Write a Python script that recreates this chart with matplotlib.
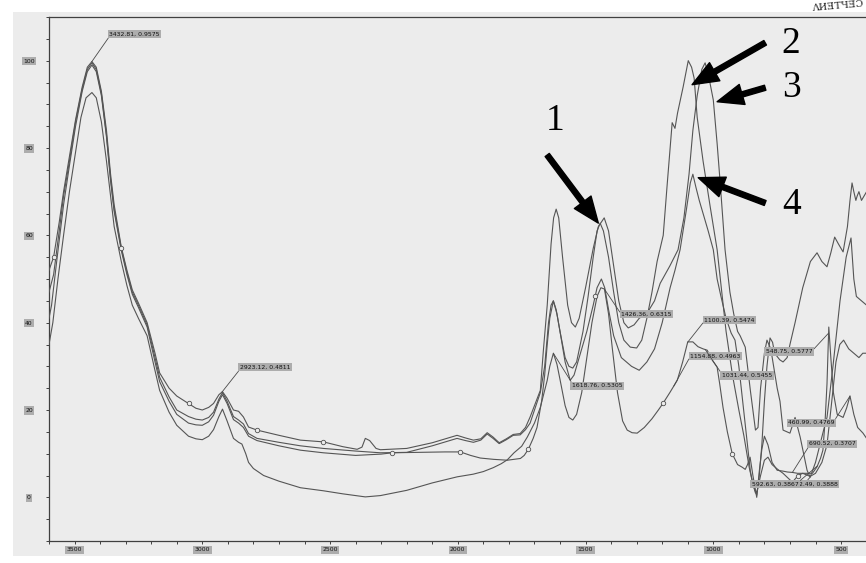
import numpy as np
import matplotlib.pyplot as plt
from matplotlib.patches import Rectangle
from matplotlib.ticker import MultipleLocator

# IR spectra, four samples (wavenumber, cm-1 -> relative absorbance)
c3_wn = [3600, 3582, 3560, 3543, 3520, 3496, 3470, 3450, 3432, 3415, 3395, 3375, 3359, 3345, 3317, 3295, 3274, 3250, 3216, 3185,
         3167, 3130, 3100, 3054, 3025, 3000, 2975, 2956, 2935, 2921, 2903, 2878, 2858, 2839, 2819, 2786, 2700, 2616, 2526, 2450,
         2394, 2375, 2362, 2345, 2320, 2303, 2200, 2100, 2003, 1970, 1939, 1910, 1885, 1862, 1838, 1810, 1783, 1756, 1735, 1717,
         1700, 1677, 1665, 1650, 1635, 1625, 1615, 1605, 1590, 1570, 1555, 1540, 1525, 1500, 1470, 1450, 1427, 1410, 1390, 1370,
         1350, 1333, 1310, 1290, 1259, 1230, 1208, 1170, 1138, 1115, 1095, 1080, 1063, 1045, 1032, 1020, 1000, 985, 973, 954,
         935, 920, 905, 895, 875, 855, 835, 825, 815, 800, 790, 775, 750, 739, 727, 700, 680, 660, 633, 621,
         600, 570, 555, 532, 504, 480, 461, 450, 440, 420, 400]
c3_val = [52, 55, 63, 70, 78, 86.5, 94, 98.5, 99.8, 98.5, 93, 84, 74, 67, 57.3, 52, 47.5, 44.5, 40, 33,
          28.5, 25, 23.2, 21.5, 20.4, 20, 20.6, 21.5, 23.5, 24.2, 22.7, 20, 19.7, 18.4, 16.1, 15.4, 14.2, 13.1, 12.7, 11.6,
          11.0, 11.5, 13.5, 13, 11.2, 10.9, 11.2, 12.5, 14.2, 13.6, 13.1, 13.4, 14.8, 13.8, 12.5, 13.4, 14.4, 14.6, 16, 18.4,
          21, 24.5, 33.7, 44, 58, 64, 66, 64, 55, 44, 40, 39, 41, 48, 57, 62, 64, 61, 53, 45,
          40, 38.8, 39.5, 41, 42.2, 45, 49, 53, 56.7, 64, 74, 84, 92, 98, 99.5, 97, 91, 81, 72, 56.7,
          47, 42, 38, 37, 34.4, 24.5, 15.4, 16, 25, 33, 36, 34, 25, 22, 15.4, 14.7, 18.3, 13.8, 6.2, 4.6,
          8, 15, 18.3, 29.8, 45, 55, 59.4, 50, 46, 45, 44]

c2_wn = [3600, 3582, 3560, 3543, 3520, 3496, 3470, 3450, 3432, 3415, 3395, 3375, 3359, 3345, 3317, 3295, 3274, 3250, 3216, 3185,
         3167, 3130, 3100, 3054, 3025, 3000, 2975, 2956, 2935, 2921, 2903, 2878, 2858, 2839, 2819, 2786, 2700, 2616, 2526, 2400,
         2303, 2200, 2100, 2003, 1970, 1939, 1910, 1885, 1862, 1838, 1810, 1783, 1756, 1735, 1717, 1700, 1677, 1660, 1645, 1635,
         1626, 1615, 1600, 1580, 1565, 1550, 1535, 1510, 1490, 1470, 1455, 1443, 1430, 1410, 1390, 1370, 1350, 1325, 1300, 1280,
         1260, 1240, 1220, 1196, 1180, 1161, 1150, 1140, 1118, 1098, 1085, 1075, 1063, 1040, 1012, 985, 965, 950, 925, 900,
         880, 860, 845, 830, 820, 810, 800, 790, 778, 768, 760, 740, 727, 711, 700, 680, 650, 620, 594, 575,
         555, 540, 525, 510, 492, 475, 465, 457, 450, 442, 437, 430, 420, 410, 400]
c2_val = [47, 51, 61, 69, 77, 86, 93.5, 98, 99.5, 98, 92.5, 83, 73, 66, 57, 51.5, 47, 44, 39.5, 32,
          27.5, 23, 20, 18.5, 17.9, 17.7, 18.3, 19.5, 22.5, 24, 22, 18.5, 17.7, 16.8, 14.6, 13.5, 12.6, 11.8, 11.2, 10.6,
          10.2, 10.3, 11.8, 13.5, 13.0, 12.6, 13.1, 14.5, 13.5, 12.3, 13.2, 14.2, 14.3, 15.5, 17, 20, 24, 30, 40, 44,
          45, 43, 38, 32, 30, 29.6, 31, 38, 46, 55, 61, 62.8, 61, 55, 47, 40, 36, 34.4, 34.2, 36,
          41, 47, 54, 60, 72, 85.8, 84.5, 88, 94, 100, 98.5, 96, 87, 77, 66.5, 56.7, 46, 38, 28, 20,
          14, 7, 3, 0.5, 5, 12, 22, 30, 36.5, 35.5, 33, 31.5, 31, 32, 35, 40, 48, 54, 56, 54,
          52.8, 56, 59.6, 58, 56.2, 62, 68, 72, 70, 68, 69, 70, 68, 69, 70]

c4_wn = [3600, 3590, 3570, 3543, 3520, 3496, 3470, 3450, 3432, 3415, 3395, 3375, 3359, 3345, 3317, 3295, 3274, 3250, 3216, 3185,
         3167, 3130, 3100, 3054, 3025, 3000, 2975, 2956, 2935, 2921, 2903, 2878, 2858, 2839, 2819, 2786, 2700, 2616, 2526, 2400,
         2300, 2257, 2150, 2050, 1990, 1950, 1912, 1860, 1806, 1770, 1755, 1740, 1724, 1705, 1690, 1672, 1660, 1650, 1640, 1626,
         1612, 1600, 1580, 1560, 1545, 1520, 1495, 1470, 1455, 1438, 1425, 1410, 1390, 1360, 1320, 1290, 1260, 1230, 1200, 1169,
         1150, 1130, 1105, 1090, 1080, 1068, 1055, 1040, 1020, 1000, 985, 970, 950, 930, 915, 900, 885, 870, 855, 845,
         835, 828, 815, 800, 786, 770, 750, 727, 700, 690, 668, 650, 630, 612, 594, 580, 571, 562, 555, 548,
         540, 530, 515, 492, 478, 465, 450, 435, 414, 400]
c4_val = [41, 44, 54, 67, 76, 85, 93, 97.5, 99, 97.5, 92, 82.5, 72.5, 65.5, 56.5, 51, 46.5, 43.5, 39, 31,
          26.5, 22, 19, 17, 16.6, 16.5, 17.3, 18.8, 22, 23.5, 21.5, 17.8, 17, 16, 14, 13, 11.8, 10.8, 10.2, 9.6,
          9.9, 10.2, 10.3, 10.4, 10.4, 9.6, 9.0, 8.7, 8.5, 8.8, 8.9, 9.6, 11, 13.5, 16, 22, 28, 35, 41, 45,
          42, 38, 31, 26.8, 28, 33, 38, 44, 48, 50, 48, 43, 37, 32, 30, 29.1, 31, 34, 40, 48,
          52, 56.7, 66, 72, 74, 71, 68, 65, 61, 56.7, 50, 46, 41, 37.6, 36, 30, 22, 14, 6, 3,
          1, 1.5, 5, 8.5, 9.2, 7.5, 6.5, 5.5, 4, 3.5, 5, 5.5, 5.5, 5.5, 7, 9, 10.8, 18, 26, 39,
          32, 24, 19, 18.3, 20.5, 23.2, 19, 16, 14.7, 13.5]

d_wn = [3600, 3585, 3565, 3543, 3520, 3496, 3475, 3455, 3432, 3415, 3395, 3375, 3359, 3345, 3317, 3295, 3274, 3250, 3216, 3185,
        3167, 3130, 3100, 3054, 3025, 3000, 2975, 2956, 2935, 2921, 2903, 2878, 2858, 2845, 2830, 2819, 2800, 2760, 2700, 2616,
        2526, 2450, 2362, 2303, 2200, 2100, 2002, 1940, 1900, 1861, 1830, 1806, 1780, 1750, 1728, 1700, 1677, 1660, 1650, 1640,
        1626, 1612, 1600, 1580, 1565, 1550, 1535, 1515, 1495, 1475, 1455, 1440, 1426, 1410, 1395, 1375, 1355, 1337, 1318, 1298,
        1270, 1240, 1215, 1196, 1170, 1141, 1120, 1100, 1080, 1060, 1040, 1024, 1005, 985, 975, 962, 945, 926, 905, 887,
        875, 866, 856, 845, 830, 820, 810, 800, 786, 770, 750, 727, 710, 690, 670, 650, 621, 600, 575, 555,
        540, 520, 505, 490, 470, 450, 430, 415, 400]
d_val = [35, 40, 50, 60, 70, 79, 87, 91.5, 92.7, 91.5, 86, 77, 69, 62, 54, 48.5, 44, 41, 37, 29,
         24.5, 19.5, 16.5, 14, 13.4, 13.2, 14, 15.5, 18.5, 20.2, 17.5, 13.5, 12.6, 12.2, 10, 8, 6.6, 5, 3.7, 2.2,
         1.5, 0.8, 0.1, 0.4, 1.6, 3.3, 4.7, 5.3, 5.9, 6.8, 7.7, 8.6, 10.2, 11.7, 13.8, 17, 20.6, 24.5, 26.8, 30,
         33, 30.5, 27, 21, 18.3, 17.7, 19, 24, 32, 40, 46, 48, 47.7, 42, 34, 24, 17.5, 15.4, 14.8, 14.7,
         16, 18, 20, 21.6, 24, 26.8, 31, 35.6, 35.6, 34.5, 34, 33.7, 31.5, 29.8, 26, 20.6, 15, 10, 7.5, 6.9,
         6.4, 7.5, 9.2, 5, 0, 6, 11, 14, 12, 8, 6.2, 6, 5.8, 5.7, 5.5, 5.5, 4.8, 5.5, 8, 12,
         20, 31, 35, 36, 34, 33, 32, 33, 33]

# wavenumbers where the software placed small circle markers
c2_marks = [3317]
c3_marks = [3582, 3054, 2786, 2526]
c4_marks = [2257, 1990, 1724, 1462, 668]
d_marks = [1196, 926]

xticks = [3500, 3000, 2500, 2000, 1500, 1000, 500]
yticks = [0, 20, 40, 60, 80, 100]

BG = '#ececec'
LINE = '#555555'
TAGBOX = '#adadad'
SMALL = 4.4

curves = {
    'c2': (np.array(c2_wn, float), np.array(c2_val, float), c2_marks),
    'c3': (np.array(c3_wn, float), np.array(c3_val, float), c3_marks),
    'c4': (np.array(c4_wn, float), np.array(c4_val, float), c4_marks),
    'd': (np.array(d_wn, float), np.array(d_val, float), d_marks),
}


def value_at(name, wn):
    x, y, _ = curves[name]
    return float(np.interp(wn, x[::-1], y[::-1]))


def tag(ax, text, name, wn, tx, ty, rel):
    ax.annotate(text, xy=(wn, value_at(name, wn)), xytext=(tx, ty),
                fontsize=SMALL, family='Liberation Sans Narrow', color='#111111',
                ha='center', va='center', zorder=5,
                bbox=dict(boxstyle='square,pad=0.25', fc=TAGBOX, ec='none'),
                arrowprops=dict(arrowstyle='-', color='#4a4a4a', lw=0.6,
                                relpos=rel, shrinkA=0, shrinkB=0))


def pointer(ax, label, tip, tail, text_pos):
    ax.annotate('', xy=tip, xytext=tail, zorder=6,
                arrowprops=dict(arrowstyle='simple,head_length=1.25,head_width=1.0,tail_width=0.25',
                                mutation_scale=15, fc='black', ec='black',
                                shrinkA=0, shrinkB=0))
    ax.text(text_pos[0], text_pos[1], label, fontsize=27, family='Liberation Serif',
            ha='center', va='center', color='black', zorder=6)


W, H = 866, 563
fig = plt.figure(figsize=(W / 100, H / 100), dpi=100, facecolor='white')
fig.patches.append(Rectangle((13 / W, 1 - 556 / H), 1, (556 - 12) / H,
                             transform=fig.transFigure, fc=BG, ec='none', zorder=-5))

ax = fig.add_axes([49 / W, 1 - 541 / H, (866.6 - 49) / W, (541 - 17) / H])
ax.set_facecolor(BG)

for name, (x, y, marks) in curves.items():
    ax.plot(x, y, color=LINE, lw=0.8, zorder=3)
    mv = [value_at(name, m) for m in marks]
    ax.plot(marks, mv, 'o', ms=3.2, mfc=BG, mec='#505050', mew=0.6, zorder=4)

ax.set_xlim(3600, 400)
ax.set_ylim(-10, 110)

ax.set_xticks(xticks)
ax.set_yticks(yticks)
ax.xaxis.set_minor_locator(MultipleLocator(100))
ax.yaxis.set_minor_locator(MultipleLocator(5))
ax.tick_params(which='both', direction='out', length=2.2, width=0.7, color='#404040')
ax.tick_params(axis='y', pad=12.2, labelsize=SMALL)
ax.tick_params(axis='x', pad=2.3, labelsize=SMALL)
for lab in ax.get_yticklabels():
    lab.set_horizontalalignment('center')
for lab in ax.get_xticklabels() + ax.get_yticklabels():
    lab.set_family('Liberation Sans Narrow')
    lab.set_color('#111111')
    lab.set_bbox(dict(boxstyle='square,pad=0.25', fc=TAGBOX, ec='none'))

for side in ['left', 'bottom', 'top']:
    ax.spines[side].set_color('#404040')
    ax.spines[side].set_linewidth(0.9)
ax.spines['right'].set_visible(False)

# peak labels exported by the spectrometer software
tag(ax, '3432.81, 0.9575', 'c3', 3432.81, 3265, 106.1, (0, 0))
tag(ax, '2923.12, 0.4811', 'c3', 2923.12, 2755, 29.8, (0, 0))
tag(ax, '1426.36, 0.6315', 'd', 1426.36, 1261, 41.9, (0, 0.5))
tag(ax, '1618.76, 0.5305', 'd', 1626, 1454, 25.6, (0, 1))
tag(ax, '1100.39, 0.5474', 'd', 1100.39, 936, 40.6, (0, 0.3))
tag(ax, '1154.88, 0.4963', 'd', 1154.88, 991, 32.3, (0, 0.5))
tag(ax, '1031.44, 0.5455', 'd', 1031.44, 868, 27.9, (0, 0.8))
tag(ax, '548.75, 0.5777', 'c4', 548.75, 703, 33.4, (1, 0.7))
tag(ax, '460.99, 0.4769', 'c4', 465, 616, 17.1, (1, 1))
tag(ax, '690.52, 0.3707', 'd', 690.52, 534, 12.3, (0, 0))
# this label sits partly behind the 592.63 one, only its tail shows
tag(ax, '2.49, 0.3888', 'c3', 621, 590, 3.1, (0.2, 1))
tag(ax, '592.63, 0.3867', 'c4', 592.63, 757, 3.0, (1, 1))

# sample numbers
pointer(ax, '1', (1450, 62.8), (1650, 78.4), (1619, 86.2))
pointer(ax, '2', (1083, 94.5), (797, 104.1), (696, 103.9))
pointer(ax, '3', (985, 90.6), (797, 93.8), (692, 93.8))
pointer(ax, '4', (1059, 73.2), (797, 67.4), (692, 67.0))

# edge of a stamp on the scanned page
fig.text(838 / W, 1 - 6 / H, 'ɅИƎTЧƎƆ', rotation=5, fontsize=7, family='DejaVu Serif',
         ha='center', va='center', color='#222222')

fig.savefig('out.png', dpi=100, facecolor='white')
